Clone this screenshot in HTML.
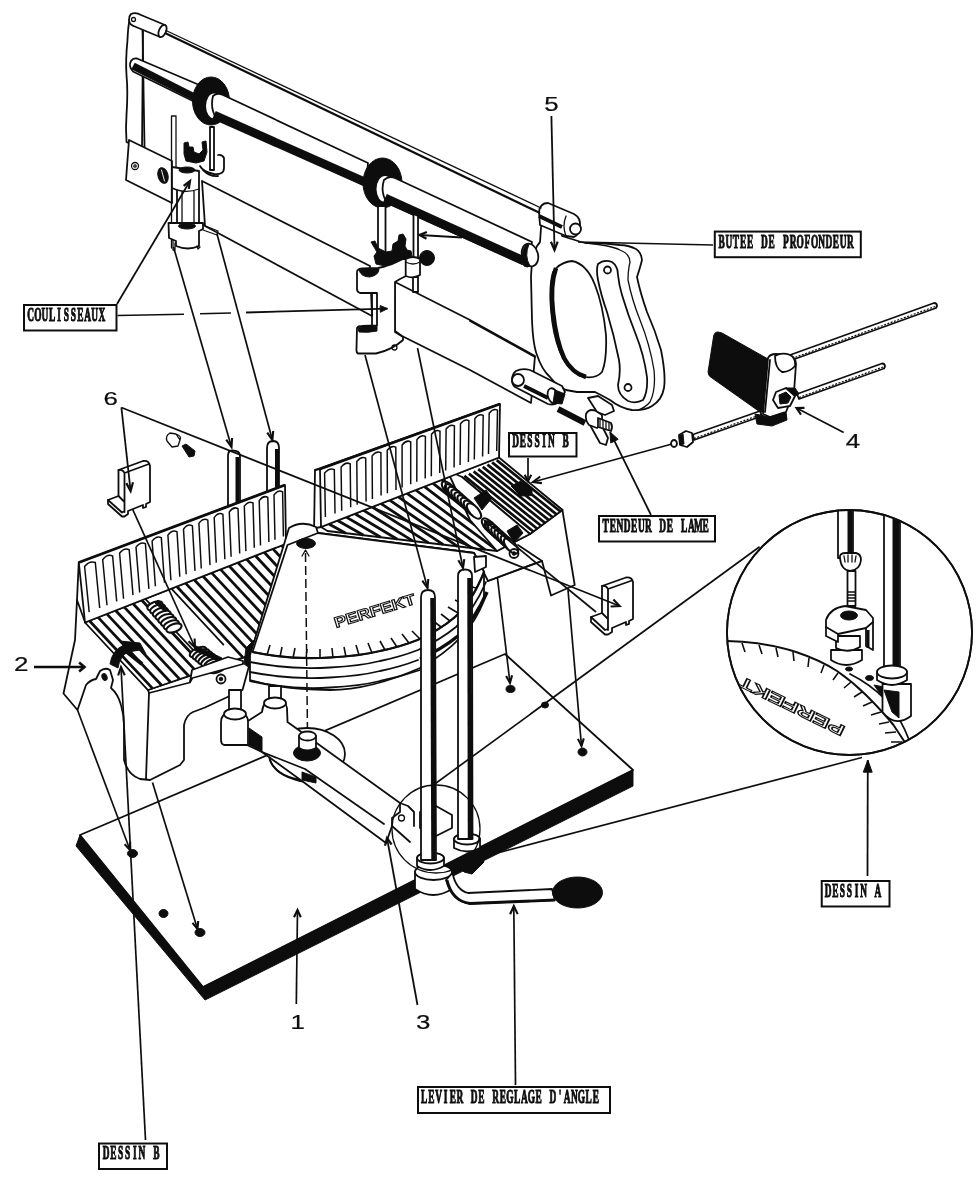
<!DOCTYPE html>
<html lang="fr">
<head>
<meta charset="utf-8">
<title>Boîte à onglets PERFEKT - vue éclatée</title>
<style>
html,body{margin:0;padding:0;background:#fff;}
body{width:980px;height:1181px;overflow:hidden;}
svg{display:block;}
.l{fill:none;stroke:#111;stroke-width:1.8;stroke-linecap:round;stroke-linejoin:round;}
.t{fill:none;stroke:#111;stroke-width:1.3;stroke-linecap:round;stroke-linejoin:round;}
.w{fill:#fff;stroke:#111;stroke-width:1.8;stroke-linejoin:round;stroke-linecap:round;}
.k{fill:#111;stroke:#111;stroke-width:1;stroke-linejoin:round;}
.b{fill:none;stroke:#111;stroke-linecap:butt;}
.lab rect{fill:#fff;stroke:#111;stroke-width:2;}
.lab text{font-family:"Liberation Serif",serif;font-weight:bold;fill:#111;stroke:#111;stroke-width:1.1px;}
.num{font-family:"Liberation Sans",sans-serif;fill:#111;stroke:#111;stroke-width:0.2px;}
</style>
</head>
<body>
<svg width="980" height="1181" viewBox="0 0 980 1181">
<defs><filter id="soft" x="0" y="0" width="980" height="1181" filterUnits="userSpaceOnUse"><feGaussianBlur stdDeviation="0.45"/></filter></defs>
<rect width="980" height="1181" fill="#fff"/>
<g filter="url(#soft)">
<g id="backposts">
<path class="w" d="M228,456 Q228,450.500 232,450.500 Q240,450.500 240,456 L240,520 L228,520 Z"/>
<path class="b" stroke-width="4" d="M237.500,457 L237.500,520"/>
<path class="w" d="M267,448 Q267,441 273,441 Q279,441 279,448 L279,520 L267,520 Z"/>
<path class="b" stroke-width="4" d="M277,449 L277,520"/>
</g>
<g id="base">
<path class="w" stroke-width="2" d="M80,835 L505,654 L633,770 L203,987 Z"/>
<path class="k" d="M80,835 L203,987 L633,770 L633,786 L205,1000 L76,846 Z"/>
<ellipse class="k" cx="132.500" cy="853.500" rx="5" ry="4"/>
<ellipse class="k" cx="163.500" cy="913.500" rx="4.500" ry="4"/>
<ellipse class="k" cx="200" cy="932.500" rx="5" ry="4"/>
<ellipse class="k" cx="510.500" cy="689" rx="4.500" ry="3.500"/>
<ellipse class="k" cx="545" cy="705" rx="3.500" ry="3"/>
<ellipse class="k" cx="582.500" cy="752" rx="4.500" ry="4"/>
</g>
<g id="rbox">
<path class="w" d="M315,470 L314,533 L474,553 L488,581 L542,561 L551,595.500 L574.700,585 L562.400,510 L499,459 L499,404 Z"/>
<path class="l" d="M488,581 L542,561 L518,545"/>
<path class="l" d="M530,534 L562.400,510"/>
<path class="w" d="M321,527 L499,457.5 L562.4,510 L530,534 L497,551 L327.5,531 Z"/>
<path class="b" stroke-width="2.8" d="M328.9,523.9 L345.8,533.2 M337.6,520.5 L363.6,535.3 M346.3,517.1 L380.8,537.3 M354.9,513.8 L397.3,539.2 M363.6,510.4 L413.1,541.1 M372.3,507 L428.5,542.9 M381,503.6 L443.3,544.7 M389.6,500.2 L457.6,546.4 M398.3,496.8 L471.6,548 M407,493.4 L485.1,549.6 M415.7,490 L497.6,550.7 M424.4,486.6 L504.1,547.4 M433,483.3 L510.6,544 M441.7,479.9 L517.1,540.6 M450.4,476.5 L523.7,537.2"/>
<path class="b" stroke-width="2.7" d="M464.3,475.9 L533.3,531.5 M468.9,473.6 L537.2,528.7 M473.6,471.4 L541.1,525.8 M478.2,469.1 L544.9,522.9 M482.8,466.9 L548.8,520.1 M487.4,464.6 L552.7,517.2 M492.1,462.4 L556.5,514.4 M496.7,460.1 L560.4,511.5"/>
<path class="l" d="M462,477 L530,534"/>
<path class="w" d="M447,470 L462,477 L505,513 L530,534 L497,551 L470,520 Z"/>
<g fill="#fff" stroke="#111" stroke-width="2.1"><ellipse cx="449" cy="489" rx="4.5" ry="9.5" transform="rotate(-42 449 489)"/><ellipse cx="452.1" cy="491.8" rx="4.5" ry="9.5" transform="rotate(-42 452.1 491.8)"/><ellipse cx="455.2" cy="494.5" rx="4.5" ry="9.5" transform="rotate(-42 455.2 494.5)"/><ellipse cx="458.4" cy="497.2" rx="4.5" ry="9.5" transform="rotate(-42 458.4 497.2)"/><ellipse cx="461.5" cy="500" rx="4.5" ry="9.5" transform="rotate(-42 461.5 500)"/><ellipse cx="464.6" cy="502.8" rx="4.5" ry="9.5" transform="rotate(-42 464.6 502.8)"/><ellipse cx="467.8" cy="505.5" rx="4.5" ry="9.5" transform="rotate(-42 467.8 505.5)"/><ellipse cx="470.9" cy="508.2" rx="4.5" ry="9.5" transform="rotate(-42 470.9 508.2)"/><ellipse cx="474" cy="511" rx="4.5" ry="9.5" transform="rotate(-42 474 511)"/></g>
<g fill="#fff" stroke="#111" stroke-width="2.1"><ellipse cx="489" cy="526" rx="4.5" ry="9.5" transform="rotate(-42 489 526)"/><ellipse cx="492.1" cy="528.9" rx="4.5" ry="9.5" transform="rotate(-42 492.1 528.9)"/><ellipse cx="495.3" cy="531.7" rx="4.5" ry="9.5" transform="rotate(-42 495.3 531.7)"/><ellipse cx="498.4" cy="534.6" rx="4.5" ry="9.5" transform="rotate(-42 498.4 534.6)"/><ellipse cx="501.6" cy="537.4" rx="4.5" ry="9.5" transform="rotate(-42 501.6 537.4)"/><ellipse cx="504.7" cy="540.3" rx="4.5" ry="9.5" transform="rotate(-42 504.7 540.3)"/><ellipse cx="507.9" cy="543.1" rx="4.5" ry="9.5" transform="rotate(-42 507.9 543.1)"/><ellipse cx="511" cy="546" rx="4.5" ry="9.5" transform="rotate(-42 511 546)"/></g>
<path class="k" d="M474,498 l12,-8 l6,8 l-10,12 Z M507,531 l10,-6 l6,8 l-9,10 Z"/>
<path class="k" d="M511,486 L521,481 L532,489 L532,495.500 L521,496 Z"/>
<circle class="l" cx="514" cy="553.500" r="4.500"/><circle class="k" cx="514" cy="553.500" r="1.800"/>
<path class="w" d="M320,469 L500,404 L499,457.5 L321,527 Z"/>
<path class="b" stroke-width="2.8" d="M320,469 L500,404"/>
<path class="b" stroke-width="1.5" stroke-linecap="round" d="M325.4,517.1 L324.6,473.1 Q329.4,467.3 334.3,469.6 L335,513.4 M341.7,510.8 L341.1,467.2 Q345.6,461.5 350.2,463.8 L350.7,507.3 M357.2,504.8 L356.8,461.5 Q361.2,455.8 365.7,458.2 L366.1,501.4 M372.4,499 L372.1,455.9 Q376.4,450.3 380.9,452.7 L381.1,495.6 M387.4,493.2 L387.2,450.4 Q391.5,444.9 395.8,447.2 L396,489.9 M402.1,487.5 L402.1,445 Q406.4,439.5 410.7,441.8 L410.7,484.2 M416.8,481.8 L416.9,439.6 Q421.1,434.1 425.4,436.5 L425.2,478.6 M431.3,476.2 L431.5,434.2 Q435.7,428.9 440,431.2 L439.7,473 M445.7,470.6 L446.1,429 Q450.3,423.6 454.4,425.9 L454.1,467.4 M460.1,465.1 L460.5,423.7 Q464.7,418.4 468.9,420.6 L468.4,461.9 M474.3,459.6 L474.9,418.5 Q479.1,413.2 483.2,415.4 L482.6,456.4 M488.5,454.1 L489.2,413.2 Q493.4,408 497.5,410.2 L496.7,450.9"/>
<path class="l" d="M320,469 L315,470 M321,527 L316,528"/>
</g>
<g id="lbox">
<path class="w" d="M77,600 L75,640 L63.500,693.500 L77.500,710 L86,685 Q90,680 96,679 L100,671 Q105,667 110,670 L113,680 L111,688 Q118,694 121,705 Q124,715 124,725 L124,760 Q128,775 140,779 L150,780 L180,765 L184,760 L184,725 Q186,715 193,712 L205,707.500 L242.500,690 L252,655 L148,690 L85,622 Z"/>
<path class="l" d="M149,693 L146,779"/>
<ellipse class="k" cx="104.500" cy="677" rx="2.500" ry="3.500" transform="rotate(-20 104.500 677)"/>
<path class="l" d="M148,690 L149,693 L190,682.500 L192.500,675 L242.500,661"/>
<circle class="l" cx="221" cy="679" r="4.500"/><circle class="k" cx="221" cy="679" r="1.800"/>
<path class="w" d="M85,622.5 L286,543.8 L250,655 L148,690 Z"/>
<path class="b" stroke-width="2.8" d="M89.4,620.8 L152.5,688.4 M98.1,617.4 L161.6,685.3 M106.8,613.9 L170.6,682.2 M115.6,610.5 L179.6,679.1 M124.3,607.1 L188.7,676 M133.1,603.7 L197.7,672.9 M141.8,600.2 L206.8,669.8 M176.8,586.5 L242.9,657.4 M185.5,583.1 L250.7,652.9 M194.2,579.7 L253.7,643.4 M203,576.3 L256.8,634 M211.7,572.9 L259.9,624.5 M220.5,569.4 L263,615 M229.2,566 L266,605.5 M237.9,562.6 L269.1,596 M246.7,559.2 L272.2,586.5 M255.4,555.7 L275.2,577 M264.2,552.3 L278.3,567.5 M272.9,548.9 L281.4,558 M281.6,545.5 L284.5,548.5"/>
<path class="l" d="M145.3,598.9 l58,62 M171.4,588.6 l52,56"/>
<g fill="#fff" stroke="#111" stroke-width="2.1"><ellipse cx="155" cy="606" rx="8" ry="4" transform="rotate(-20 155 606)"/><ellipse cx="157.7" cy="609.1" rx="8" ry="4" transform="rotate(-20 157.7 609.1)"/><ellipse cx="160.4" cy="612.3" rx="8" ry="4" transform="rotate(-20 160.4 612.3)"/><ellipse cx="163.1" cy="615.4" rx="8" ry="4" transform="rotate(-20 163.1 615.4)"/><ellipse cx="165.9" cy="618.6" rx="8" ry="4" transform="rotate(-20 165.9 618.6)"/><ellipse cx="168.6" cy="621.7" rx="8" ry="4" transform="rotate(-20 168.6 621.7)"/><ellipse cx="171.3" cy="624.9" rx="8" ry="4" transform="rotate(-20 171.3 624.9)"/><ellipse cx="174" cy="628" rx="8" ry="4" transform="rotate(-20 174 628)"/></g>
<g fill="#fff" stroke="#111" stroke-width="2.1"><ellipse cx="198" cy="652" rx="9" ry="4" transform="rotate(-25 198 652)"/><ellipse cx="200.9" cy="654.3" rx="9" ry="4" transform="rotate(-25 200.9 654.3)"/><ellipse cx="203.7" cy="656.6" rx="9" ry="4" transform="rotate(-25 203.7 656.6)"/><ellipse cx="206.6" cy="658.9" rx="9" ry="4" transform="rotate(-25 206.6 658.9)"/><ellipse cx="209.4" cy="661.1" rx="9" ry="4" transform="rotate(-25 209.4 661.1)"/><ellipse cx="212.3" cy="663.4" rx="9" ry="4" transform="rotate(-25 212.3 663.4)"/><ellipse cx="215.1" cy="665.7" rx="9" ry="4" transform="rotate(-25 215.1 665.7)"/><ellipse cx="218" cy="668" rx="9" ry="4" transform="rotate(-25 218 668)"/></g>
<path class="k" d="M158,600 l10,9 l-3,3 l-10,-9 Z M196,646 l26,12 l-2,4 l-26,-12 Z"/>
<path class="w" d="M190,682 L192,670 L228,657 L243,661 L243,664 L192.500,678 Z"/>
<path class="k" d="M110,664 Q112,650 124,645 L120,641 L140,643 L146,654 L140,650 L128,652 Q120,656 118,668 Z"/>
<path class="b" stroke-width="4" d="M122,648 L142,664"/>
<path class="k" d="M246,648 L254,640 L250,668 L244,664 Z"/>
<path class="w" d="M78.8,562.5 L285,485 L286,543.8 L85,622.5 Z"/>
<path class="b" stroke-width="2.8" d="M78.8,562.5 L285,485"/>
<path class="b" stroke-width="1.5" stroke-linecap="round" d="M89.2,612.1 L84.6,566.5 Q89.5,560.3 95.3,562.5 L99.7,608 M107,605.2 L102.7,559.7 Q107.3,553.6 112.6,556 L116.7,601.4 M123.6,598.7 L119.6,553.3 Q124.1,547.3 129.2,549.7 L133,595.1 M139.7,592.5 L136,547.1 Q140.4,541.2 145.4,543.6 L148.9,588.9 M155.4,586.3 L152.1,541.1 Q156.4,535.2 161.3,537.6 L164.5,582.8 M170.9,580.3 L167.9,535.1 Q172.2,529.2 177,531.7 L179.8,576.8 M186.2,574.3 L183.5,529.2 Q187.7,523.4 192.4,525.8 L195,570.9 M201.3,568.5 L198.9,523.4 Q203.1,517.6 207.8,520.1 L210,565.1 M216.3,562.6 L214.2,517.6 Q218.4,511.8 222.9,514.3 L224.9,559.3 M231.1,556.8 L229.3,511.9 Q233.5,506.2 238,508.6 L239.7,553.5 M245.9,551.1 L244.3,506.3 Q248.5,500.5 253,503 L254.3,547.8 M260.5,545.4 L259.2,500.6 Q263.4,494.9 267.8,497.4 L268.9,542.1 M275,539.7 L274,495 Q278.2,489.3 282.6,491.8 L283.4,536.5"/>
<path class="l" d="M78.750,562.500 L77,600"/>
</g>
<g id="table">
<!-- under ring / base of turntable -->
<path class="w" d="M289,528 Q302,520 316,527 L318,533 L474,553 L484,572 L484,600 Q470,640 420,668 Q370,690 330,690 Q285,690 250,680 L250,655 Z"/>
<!-- plate -->
<path class="w" d="M287.500,545 L252.500,652 Q290,660 330,657.500 Q360,656 380,651 Q400,647 417.500,640 Q440,630 455,617 Q472,602 484,572 L474,553 L318,533 Z"/>
<path class="b" stroke-width="2.200" d="M252.500,652 Q290,660 330,657.500 Q360,656 380,651 Q400,647 417.500,640 Q440,630 455,617 Q472,602 484,572"/>
<path class="l" d="M250,662 Q290,670 330,667.500 Q360,666 380,661 Q400,657 418,650 Q440,640 456,627 Q474,610 486,582"/>
<path class="b" stroke-width="3.500" d="M420,659 Q442,649 458,636 Q476,618 487,592"/>
<path class="l" d="M250,672 Q290,680 330,677.500 Q360,676 380,671 Q400,667 418,660"/>
<path class="l" d="M250,681 Q290,690 330,687.500 Q360,686 380,681 Q400,677 420,670"/>
<!-- ticks -->
<path class="b" stroke-width="1.600" d="M267,655 l3,-10 M280,657 l2,-10 M293,658 l2,-10 M306,659 l1,-10 M320,659 l0,-10 M333,658 l-1,-10 M346,657 l-2,-10 M359,655 l-3,-10 M372,653 l-4,-10 M385,650 l-5,-9 M397,647 l-6,-9 M409,643 l-7,-9 M420,639 l-8,-8 M431,633 l-8,-8 M441,627 l-9,-7 M450,621 l-9,-7 M458,613 l-10,-6 M465,605 l-10,-5 M471,597 l-11,-4 M476,588 l-11,-3"/>
<!-- pivot -->
<ellipse class="k" cx="306" cy="543.500" rx="9.500" ry="5"/>
<path class="b" stroke-width="1.500" stroke-dasharray="9 4" d="M305.500,553 L307.500,735"/>
<path class="t" d="M302,556 L305.500,550 L309,556"/>
<!-- PERFEKT -->
<text transform="translate(336,628) rotate(-17)" font-family="Liberation Sans, sans-serif" font-weight="bold" font-size="15" fill="#fff" stroke="#111" stroke-width="1.100" textLength="84" lengthAdjust="spacingAndGlyphs">PERFEKT</text>
</g>
<g id="arm">
<!-- back legs (small posts under table) -->
<path class="w" d="M229,690 L229,716 L241,716 L241,690 Z"/>
<path class="w" d="M269,686 L269,704 L281,704 L281,686 Z"/>
<!-- washer disc -->
<ellipse class="w" cx="307" cy="754" rx="38" ry="26"/>
<path class="l" d="M270,760 Q275,775 300,781 Q312,783 318,780"/>
<!-- arm -->
<path class="w" d="M221,722 Q221,714 229,713 L243,714 Q248,716 248,721 L262,712 Q263,700 275,698 Q286,699 287,708 L287.500,722 L400,803 L400,812 L392,818 L392,826 L386,843 L302,781 L262,752 L247,745 L224,745 Q221,744 221,740 Z"/>
<path class="l" d="M248,722 L248,745 M305,769 L384,824 M262,752 L305,769"/>
<ellipse class="w" cx="235" cy="714" rx="11" ry="5.500"/>
<ellipse class="w" cx="275" cy="703" rx="11" ry="5.500"/>
<path class="k" d="M249,728 L262,737 L262,752 L249,745 Z"/>
<path class="k" d="M302,772 L316,777 L316,783 L302,780 Z"/>
<!-- bolt -->
<ellipse class="k" cx="307" cy="753" rx="13.500" ry="8"/>
<path class="w" d="M299,736 L299,748 Q307,753 316,748 L316,736 Z"/>
<ellipse class="w" cx="307.500" cy="736" rx="8.500" ry="4.500"/>
<!-- arm end / boss -->
<circle class="t" cx="401.500" cy="818" r="3"/>
<path class="l" d="M400,803 L408,806 L414,812 L414,826 M392,826 L410,842"/>
<path class="w" d="M420,812 L436,806 L452,815 L452,828 L436,836 L420,828 Z"/>
<!-- boss cylinder under post 1 -->
<path class="w" d="M415,872 L415,889 Q433,901 452,889 L452,872 Z"/>
<ellipse class="w" cx="433.500" cy="872" rx="18.500" ry="8"/>
<!-- nuts -->
<path class="w" d="M417,858 L417,866 Q430,874 444,866 L444,858 Z"/>
<ellipse class="w" cx="430.500" cy="858" rx="13.500" ry="5.500"/>
<path class="w" d="M454,839 L454,848 Q467,855 480,848 L480,839 Z"/>
<ellipse class="w" cx="467" cy="839" rx="13" ry="5.500"/>
<path class="k" d="M458,866 L480,852 L484,862 L472,874 L464,872 Z"/>
<!-- lever -->
<path class="w" d="M452.500,873 Q456,890 468,893 L552,889 L555,900 L470,903.500 Q452,902 446,880 Z"/>
<path class="b" stroke-width="2.800" d="M447,880 Q452,901 470,903.500 L555,900"/>
<ellipse class="k" cx="577.500" cy="892.500" rx="25" ry="15.500"/>
<!-- post 1 -->
<path class="w" d="M421,597 Q421,590 428,590 Q435,590 435,597 L436,860 L421,860 Z"/>
<path class="b" stroke-width="4.500" d="M432.500,598 L433.500,860"/>
<!-- post 2 -->
<path class="w" d="M458,576 Q458,569.500 465,569.500 Q472,569.500 472,576 L472.500,839 L458,839 Z"/>
<path class="b" stroke-width="4.500" d="M469.500,578 L470,839"/>
<path class="w" d="M474,557 L486,556 L486,567 L475,572 Z"/>
<!-- small circle A -->
<circle class="t" cx="436" cy="829" r="44"/>
<!-- back posts behind left fence -->
</g>
<g id="handle">
<!-- handle outer -->
<path class="w" d="M543,207 L541,228 L540,242 Q532,250 531,277 L532,320 Q533,345 537,355 Q542,370 550,377 Q557,386 566,390 L577,392 L595,392 Q603,396 610,400 Q620,408 632,410 Q644,411 652,406 Q662,400 664,388 Q666,375 661,350 Q655,330 647,312 Q640,292 637,277 Q640,268 642,260 Q641,252 636,249 Q628,245 620,245 L600,243 Q585,244 578,241 Q568,238 562,236 L562,214 Z"/>
<!-- second contour -->
<path class="t" d="M585,243 Q610,245 620,250 Q630,254 630,262 Q628,270 628,280 Q632,300 640,320 Q650,345 654,370 Q656,390 650,402 Q645,408 638,410"/>
<!-- oval hole -->
<path class="w" d="M572,261 Q560,262 553,272 Q549,285 551,310 Q553,335 560,352 Q568,370 580,376 Q595,380 602,372 Q607,360 606,335 Q603,305 595,285 Q587,264 572,261 Z"/>
<path class="b" stroke-width="4.500" d="M556,268 Q550,285 553,312 Q556,340 564,358 Q572,373 586,377"/>
<!-- inner grip -->
<path class="l" d="M598,264 Q604,259 612,262 Q618,266 618,275 Q619,285 622,295 Q628,315 636,335 Q644,355 647,377 Q648,392 643,400 Q636,404 628,401 Q618,395 618,385 Q621,372 619,360 Q614,335 607,312 Q601,295 598,280 Q596,270 598,264 Z"/>
<circle class="l" cx="607.500" cy="270" r="3.500"/>
<circle class="l" cx="628" cy="387.500" r="3.500"/>
<!-- top bracket -->
<path class="w" d="M539,212 Q540,203 548,203 L574,214 Q581,218 580,226 Q580,234 574,237 L566,236 L540,225 Z"/>
<path class="b" stroke-width="4" d="M539,216 L562,227"/>
<circle class="w" cx="575.500" cy="229" r="5.500"/>
<path class="t" d="M566,216 Q562,226 566,236"/>
</g>
<g id="saw">
<!-- frame left upright -->
<path class="w" d="M131,16 C128,22 128,30 127.500,40 C126,55 125.500,62 126.500,75 C128,90 127.500,100 126.500,115 C125.500,128 126,135 126.500,142 L142,150 L143,30 L133,15 Z"/>
<path class="l" d="M142.500,28 L144.500,147"/>
<!-- top fitting -->
<path class="w" d="M131,14 Q136,12 141,15 L165,25 L160,37 L136,27 Q129,25 129,20 Q129,16 131,14 Z"/>
<ellipse class="w" cx="162.500" cy="31" rx="3.500" ry="6.500" transform="rotate(24 162.500 31)"/>
<circle class="t" cx="133.500" cy="19.500" r="2"/>
<!-- thin rod -->
<path class="t" d="M166,30.500 L541,208"/>
<path class="b" stroke-width="2.200" d="M165,33 L540,213"/>
<!-- tube left thin part -->
<path class="w" d="M137,58.500 L204,87 L199,104 L133,71.500 Q128,66 131,61 Q133,58 137,58.500 Z"/>
<path class="b" stroke-width="7.500" stroke-linecap="round" d="M133,66 L198,99"/>
<!-- ring1 -->
<ellipse class="k" cx="211" cy="101" rx="18.500" ry="24"/>
<ellipse cx="214" cy="106" rx="8" ry="12.500" fill="#fff"/>
<!-- tube middle -->
<path class="w" d="M213,96 Q217,92 223,95 L368,163 L366,186 L216,118 Q210,108 213,96 Z"/>
<path class="b" stroke-width="8.500" d="M214,115 L366,182.500"/>
<!-- ring2 -->
<ellipse class="k" cx="382.500" cy="183" rx="19.500" ry="25"/>
<ellipse cx="385" cy="189" rx="8.500" ry="13" fill="#fff"/>
<!-- tube right -->
<path class="w" d="M384,180 Q389,175 396,178.500 L532,242 L527,266 L387,203 Q380,192 384,180 Z"/>
<path class="b" stroke-width="9" d="M385,198 L524,261"/>
<ellipse class="w" cx="530" cy="255" rx="8" ry="11.500" transform="rotate(-15 530 255)"/>
<path class="k" d="M527,244 Q519,252 524,266 Q528,268 530,266 Q524,256 529,244 Z"/>
<!-- blade left plate -->
<path class="w" d="M129,140 L172,161 L172,203 L126,180 Z"/>
<circle class="t" cx="135" cy="166" r="3.500"/>
<circle class="t" cx="135" cy="166" r="1.200"/>
<!-- blade between sliders -->
<path class="w" d="M202,181 L370,266 L372,316 L205,226 Z"/>
<!-- blade right part -->
<path class="w" d="M395,282 L470,320 L535,356 L531,403 L470,370 L402,336 L395,331 Z"/>
<path class="l" d="M470,321 L535,357"/>
</g>
<g id="holder">
<!-- bottom blade holder -->
<path class="w" d="M516,371 Q512,374 512,380 Q512,386 517,388 L548,404 Q556,406 560,400 L565,392 L562,386 L530,370 Q522,368 516,371 Z"/>
<circle class="w" cx="518" cy="380" r="6"/>
<path class="b" stroke-width="4" d="M524,386 L548,398"/>
<ellipse class="w" cx="553" cy="396" rx="5" ry="8" transform="rotate(-20 553 396)"/>
<path class="k" d="M555,390 L565,394 L562,404 L553,403 Z"/>
<path class="b" stroke-width="6" d="M558,409 L585,423"/>
<!-- wing nut -->
<path class="w" d="M588,398 L598,396 L612,405 L614,411 L605,415 L597,412 Z"/>
<path class="w" d="M590,425 L600,443 L606,445 L608,438 L601,424 Z"/>
<path class="w" d="M586,414 Q589,408 596,411 L602,415 Q603,424 597,428 L589,425 Q585,420 586,414 Z"/>
<path class="w" d="M598,418 L611,423 Q613,427 611,431 L598,427 Z"/>
<path class="t" d="M600,419 L600,427 M603,420 L603,428 M606,421 L606,429 M609,422 L609,430"/>
</g>
<g id="sliders">
<!-- slider 1 -->
<path class="t" d="M171.500,116 L171.500,248 M176,116 L176,168 M171.500,116 L176,116"/>
<path class="w" d="M210,127 L210,170 L214,170 L214,127 Z"/>
<path class="l" d="M200,166 Q203,172 214,174 Q224,175 224,168 L224,158 Q222,154 218,155"/>
<path class="l" d="M203,170 Q210,177 218,176"/>
<path class="k" d="M184,143 L188,142 L189,147 L193,147 L194,152 L199,154 L203,150 L202,142 L206,141 L207,152 L204,161 L196,163 L186,161 L184,154 Z"/>
<ellipse class="k" cx="163" cy="175.500" rx="5" ry="8" transform="rotate(-15 163 175.500)"/>
<path class="t" d="M161.500,170 L164.500,181" style="stroke:#fff;stroke-width:0.9"/>
<path class="w" d="M172,167 L199,171 L199,223 L177,223 L177,190 L172,188 Z"/>
<ellipse class="k" cx="187" cy="170" rx="8" ry="3"/>
<path class="t" d="M177,190 Q188,193 199,189 M182,192 L182,222 M194,191 L194,222"/>
<path class="w" d="M168.500,223 L203,223 L203,229 L199,231 L199,246 Q188,251 176,246 L176,241 L169,238 Z"/>
<ellipse class="k" cx="187" cy="226" rx="8.500" ry="3"/>
<path class="t" d="M173,240 L173,250 L175,250 L175,243 M197,246 L198,249 L200,247"/>
<path class="t" d="M203,225 L218,231 L217,235 L203,230"/>
<!-- slider 2 posts -->
<path class="w" d="M378,206 L378,258 L385.500,258 L385.500,206 Z"/>
<path class="w" d="M413.500,214 L413.500,258 L418,258 L418,216 Z"/>
<path class="w" d="M413,277 L413,292 L418,292 L418,277 Z"/>
<!-- knob -->
<circle class="k" cx="427" cy="258" r="7.500"/>
<!-- clip -->
<path class="k" d="M371,242 L375,241 L378,248 L386,252 L392,251 L393,244 L398,241 L399,235 L403,234 L406,239 L405,246 L407,250 L411,251 L412,256 L404,259 L396,263 L385,266 L376,264 L374,256 L377,252 Z"/>
<!-- body -->
<path class="w" d="M357,272 Q357,269 362,268.500 L378,268 Q390,266 403,259 L406,259 L406,276 L400,279 L395,282 L395,332 L403,337 L403,340 Q392,350 376,353.500 L358,353.500 Q356,352 356.500,349 L357,328 Q358,326 362,326 L377,325.500 L377,293 L360,293 Q357,292 357,289 Z"/>
<path class="k" d="M359,270 Q368,267 379,269 Q379,275 370,277 Q361,277 359,270 Z"/>
<path class="k" d="M358,328 Q367,324.500 377,326.500 L377,331 Q368,333 359,332 Z"/>
<path class="l" d="M372,293 L372,326"/>
<path class="w" d="M405.700,259 Q413,255 420,259 L420,275 Q413,279 405.700,276 Z"/>
<path class="t" d="M405.700,262 Q413,266 420,262"/>
<circle class="t" cx="394.500" cy="347.500" r="2.500"/>
</g>
<g id="stop">
<!-- rods -->
<path class="w" d="M790,355 L934,303 Q937,303 937,306 L936,308 L792,360 Z"/>
<path class="b" stroke-width="1.200" stroke-dasharray="2 1.500" d="M792,358.500 L935,306.500"/>
<path class="w" d="M797,394 L882,363.500 Q885,363.500 885,366.500 L884,368.500 L799,399 Z"/>
<path class="b" stroke-width="1.200" stroke-dasharray="2 1.500" d="M799,397.500 L883,367"/>
<path class="w" d="M693,434.500 L760,411 L762,416 L694,440 Z"/>
<path class="b" stroke-width="1.200" stroke-dasharray="2 1.500" d="M694,438.500 L761,414.500"/>
<!-- nut -->
<path class="w" d="M679,435 L686,431 L692,433 L693,442 L687,447 L680,445 Z"/>
<path class="k" d="M679,436 L683,434 L684,444 L680,445 Z"/>
<ellipse class="w" cx="674" cy="443.500" rx="3" ry="3.500"/>
<!-- black plate -->
<path class="k" d="M718,332 Q714,332 713.500,337 L708,372 Q708,376 712,378 L760,412 L764,412 L768,359 L722,333 Z"/>
<!-- block -->
<path class="w" d="M768,358 Q770,354 776,354 L790,355 Q796,358 796,364 L794,392 L786,412 L770,417 L763,414 Z"/>
<path class="w" d="M775,356 Q782,352 790,355 Q796,358 795,366 Q790,372 782,372 Q775,368 775,356 Z"/>
<path class="l" d="M770,360 L765,412"/>
<path class="k" d="M755,414 L770,417 L786,412 L787,420 L772,426 L757,424 Z"/>
<path class="w" d="M776,392 L786,388 L795,396 L790,406 L778,408 L773,400 Z"/>
<path class="k" d="M779,395 L786,392 L791,397 L788,403 L780,404 Z"/>
<path class="k" d="M786,388 L795,388 L799,394 L795,396 Z"/>
</g>
<g id="brackets">
<!-- left bracket -->
<path class="w" d="M118.500,470 L143,461 Q149,460 150,466 L150,502 L146,504 L146,507 L143,508 L143,505 L128,511 L128,514 L124.500,516.500 L122,516.500 L108,504 L108,500 L118.500,496 Z"/>
<path class="l" d="M118.500,470 Q123,469 124.500,473 L124.500,512 M124.500,473 L149,464 M118.500,496 L124.500,502 M108,500 L122,512.500 L124.500,511"/>
<!-- right bracket -->
<path class="w" d="M602,586 L626,577.500 Q632,577 633,582 L633,619 L629,621 L629,624 L626,625 L626,622 L612,628 L612,632 L608,634.500 L605,634.500 L591,622 L591,617 L602,613 Z"/>
<path class="l" d="M602,586 Q606.500,585 608,589 L608,630 M608,589 L632,580.500 M602,613 L608,619 M591,617 L605,630 L608,629"/>
<!-- small screw -->
<path class="t" d="M167,441 Q165,436 170,433 L176,434 L180,440 L178,446 L172,447 Z M176,434 Q182,436 180,440"/>
<path class="k" d="M182,446 L186,444 L195,451 L194,456 L189,457 Z"/>
</g>
<g id="detail">
<clipPath id="cpA"><circle cx="849.500" cy="632.500" r="122"/></clipPath>
<circle class="w" cx="849.500" cy="632.500" r="122.500" stroke-width="2"/>
<g clip-path="url(#cpA)">
<!-- protractor arc -->
<path class="b" stroke-width="2" d="M727,641 Q765,642 796,652 Q820,660 837,671 Q853,682 866.500,695.500 Q882,711 893.500,725 L908,747"/>
<path class="l" d="M850,674 Q870,684 886,700 Q900,716 910,742"/>
<path class="k" d="M874,685 L899,690 L899,716 L890,708 Z"/>
<!-- ticks -->
<path class="b" stroke-width="1.600" d="M742,643 l3,9 M759,645 l3,9 M776,648 l2,9 M793,652 l1,9 M809,658 l-1,9 M824,665 l-3,8 M838,673 l-5,7 M851,682 l-7,6 M862,692 l-8,5 M872,702 l-9,4 M881,712 l-10,3 M889,722 l-10,2 M896,732 l-11,1 M902,742 l-11,0"/>
<!-- PERFEKT reversed -->
<text transform="translate(846,727) rotate(206)" font-family="Liberation Sans, sans-serif" font-weight="bold" font-size="15" fill="#fff" stroke="#111" stroke-width="1.100" textLength="116" lengthAdjust="spacingAndGlyphs">PERFEKT</text>
<!-- post 1 thin -->
<path class="w" d="M838,505 L838,558 L853,558 L853,505 Z"/>
<path class="b" stroke-width="5" d="M850,505 L850,556"/>
<path class="w" d="M840,558 Q839,553 846,553 L856,553 Q861,554 861,560 Q860,570 850,571 Q841,570 840,558 Z"/>
<path class="t" d="M844,556 l1,6 M848,555 l0,7 M852,555 l0,7 M856,556 l-1,6"/>
<path class="w" d="M847.500,571 L847.500,606 L855.500,606 L855.500,571 Z"/>
<path class="t" d="M848,592 h7 M848,595 h7 M848,598 h7 M848,601 h7"/>
<!-- post 2 -->
<path class="w" d="M884,505 L884,672 L900,672 L900,505 Z"/>
<path class="b" stroke-width="7" d="M896,505 L896,670"/>
<!-- collar + block -->
<path class="w" d="M882.500,684 L882.500,712 Q895,728 911,716 L911,684 Z"/>
<path class="w" d="M877,672 L877,680 Q892,690 907,680 L907,672 Z"/>
<ellipse class="w" cx="892" cy="672" rx="15" ry="6.500"/>
<path class="k" d="M884,690 L899,692 L899,718 L892,712 Z"/>
<!-- clamp -->
<path class="w" d="M831,650 L831,660 Q846,670 862,660 L862,650 Z"/>
<path class="w" d="M836,636 L836,648 Q848,654 860,647 L860,636 Z"/>
<path class="w" d="M826,620 Q830,608 845,606 L866,610 L873,618 L873,650 L866,646 L866,628 L838,634 L838,642 L826,636 Z"/>
<path class="l" d="M838,634 L826,627 M866,628 L873,622"/>
<path class="b" stroke-width="3" d="M868,630 L868,648"/>
<ellipse class="k" cx="849" cy="615.500" rx="8.500" ry="4.500"/>
<ellipse class="k" cx="849" cy="669" rx="3.500" ry="2"/>
<ellipse class="k" cx="869.500" cy="678" rx="4" ry="2.500"/>
</g>
<circle class="l" cx="849.500" cy="632.500" r="122.500" stroke-width="2"/>
</g>
<g id="leaders">
<path class="b" stroke-width="1.8" d="M551.4,116.0 L554.5,250.0"/><path class="b" stroke-width="2.2" stroke-linecap="round" d="M550.9,241.7 L554.5,250.0 L557.7,241.6"/>
<path class="b" stroke-width="1.6" d="M713.0,245.0 L578.0,242.0"/>
<path class="b" stroke-width="1.8" d="M462.0,237.5 L419.5,235.0"/><path class="b" stroke-width="2.2" stroke-linecap="round" d="M426.9,232.1 L419.5,235.0 L426.5,238.8"/>
<path class="b" stroke-width="1.8" d="M117.0,304.0 L190.0,181.0"/><path class="b" stroke-width="2.2" stroke-linecap="round" d="M188.8,188.9 L190.0,181.0 L183.6,185.8"/>
<path class="b" stroke-width="1.6" d="M117.5,315.5 L184.0,314.2"/>
<path class="b" stroke-width="1.6" d="M200.0,313.8 L231.0,313.0"/>
<path class="b" stroke-width="1.8" d="M246.0,312.5 L387.5,308.7"/><path class="k" d="M387.5,308.7 L380.3,312.3 L380.2,305.5 Z"/>
<path class="b" stroke-width="1.7" d="M173.5,247.0 L231.5,447.0"/><path class="b" stroke-width="2.1" stroke-linecap="round" d="M226.2,439.7 L231.5,447.0 L232.1,438.0"/>
<path class="b" stroke-width="1.7" d="M217.0,234.0 L272.4,440.0"/><path class="b" stroke-width="2.1" stroke-linecap="round" d="M267.2,432.6 L272.4,440.0 L273.2,431.0"/>
<path class="b" stroke-width="1.7" d="M365.0,355.0 L427.5,588.0"/><path class="b" stroke-width="2.1" stroke-linecap="round" d="M422.3,580.6 L427.5,588.0 L428.3,579.0"/>
<path class="b" stroke-width="1.7" d="M417.5,348.0 L463.0,568.0"/><path class="b" stroke-width="2.1" stroke-linecap="round" d="M458.3,560.3 L463.0,568.0 L464.3,559.1"/>
<path class="b" stroke-width="1.8" d="M121.4,407.5 L130.6,491.0"/><path class="b" stroke-width="2.2" stroke-linecap="round" d="M126.3,483.1 L130.6,491.0 L133.0,482.3"/>
<path class="b" stroke-width="1.8" d="M121.4,407.5 L619.6,606.0"/><path class="b" stroke-width="2.2" stroke-linecap="round" d="M610.6,606.5 L619.6,606.0 L613.4,599.4"/>
<path class="b" stroke-width="1.7" d="M132.5,509.0 L195.0,647.5"/><path class="b" stroke-width="2.1" stroke-linecap="round" d="M188.5,641.3 L195.0,647.5 L194.6,638.5"/>
<path class="b" stroke-width="1.7" d="M596.0,612.0 L485.0,521.0"/><path class="b" stroke-width="2.1" stroke-linecap="round" d="M492.8,523.0 L485.0,521.0 L488.5,528.2"/>
<path class="b" stroke-width="2.4" d="M34.0,667.0 L84.5,667.0"/><path class="b" stroke-width="2.6" stroke-linecap="round" d="M79.1,671.5 L84.5,667.0 L79.1,662.5"/>
<path class="b" stroke-width="1.7" d="M77.5,710.0 L130.0,850.0"/><path class="b" stroke-width="2.1" stroke-linecap="round" d="M124.6,844.1 L130.0,850.0 L130.2,842.0"/>
<path class="b" stroke-width="1.7" d="M152.5,782.5 L197.5,929.0"/><path class="b" stroke-width="2.1" stroke-linecap="round" d="M192.5,922.8 L197.5,929.0 L198.2,921.0"/>
<path class="b" stroke-width="1.7" d="M145.5,1140.0 L121.0,667.0"/><path class="b" stroke-width="2.1" stroke-linecap="round" d="M124.8,675.2 L121.0,667.0 L118.1,675.5"/>
<path class="b" stroke-width="1.7" d="M296.3,1004.0 L297.5,910.0"/><path class="b" stroke-width="2.1" stroke-linecap="round" d="M300.8,917.3 L297.5,910.0 L294.0,917.2"/>
<path class="b" stroke-width="1.8" d="M417.5,1005.0 L387.0,838.0"/><path class="b" stroke-width="2.2" stroke-linecap="round" d="M391.6,844.5 L387.0,838.0 L385.0,845.7"/>
<path class="b" stroke-width="1.7" d="M515.5,1085.0 L513.8,906.0"/><path class="b" stroke-width="2.1" stroke-linecap="round" d="M517.7,914.1 L513.8,906.0 L510.1,914.2"/>
<path class="b" stroke-width="1.8" d="M867.5,876.0 L867.8,760.0"/><path class="k" d="M867.8,760.0 L872.2,772.2 L863.3,772.2 Z"/>
<path class="b" stroke-width="1.7" d="M432.0,786.0 L759.6,546.8"/>
<path class="b" stroke-width="1.7" d="M478.0,858.0 L862.0,757.5"/>
<path class="b" stroke-width="1.7" d="M528.0,458.0 L528.0,481.0"/><path class="b" stroke-width="2.1" stroke-linecap="round" d="M524.7,474.8 L528.0,481.0 L531.3,474.8"/>
<path class="b" stroke-width="1.7" d="M672.0,444.0 L533.0,482.0"/><path class="b" stroke-width="2.1" stroke-linecap="round" d="M540.2,476.5 L533.0,482.0 L541.9,483.1"/>
<path class="b" stroke-width="1.7" d="M651.0,515.0 L610.0,432.0"/><path class="k" d="M610.0,432.0 L618.2,439.3 L610.8,443.0 Z"/>
<path class="b" stroke-width="1.7" d="M843.7,432.5 L796.5,408.0"/><path class="b" stroke-width="2.1" stroke-linecap="round" d="M804.5,407.9 L796.5,408.0 L801.0,414.6"/>
<path class="b" stroke-width="1.7" d="M497.4,577.4 L510.0,683.0"/><path class="b" stroke-width="2.1" stroke-linecap="round" d="M506.1,676.0 L510.0,683.0 L512.1,675.3"/>
<path class="b" stroke-width="1.7" d="M568.0,590.0 L581.5,746.0"/><path class="b" stroke-width="2.1" stroke-linecap="round" d="M577.9,738.9 L581.5,746.0 L583.8,738.4"/>
</g>
<g id="labels">
<g class="lab"><rect x="24" y="305" width="92.5" height="25.5"/><text transform="scale(0.52,1)" text-anchor="middle" font-size="18" y="321.3" x="59.04 72.71 86.38 100.06 113.73 127.4 141.08 154.75 168.42 182.1 195.77">COULISSEAUX</text></g>
<g class="lab"><rect x="714.8" y="231.6" width="146" height="25.6"/><text transform="scale(0.52,1)" text-anchor="middle" font-size="18" y="247.7" x="1387.72 1401.47 1415.22 1428.96 1442.71 1456.46 1470.2 1483.95 1497.7 1511.44 1525.19 1538.94 1552.68 1566.43 1580.17 1593.92 1607.67 1621.41 1635.16">BUTEE DE PROFONDEUR</text></g>
<g class="lab"><rect x="509" y="433" width="67.5" height="23.5"/><text transform="scale(0.52,1)" text-anchor="middle" font-size="18" y="447.5" x="991.74 1005.43 1019.12 1032.82 1046.51 1060.2 1073.9 1087.59">DESSIN B</text></g>
<g class="lab"><rect x="599" y="516" width="116" height="25.5"/><text transform="scale(0.52,1)" text-anchor="middle" font-size="18" y="532" x="1164.82 1178.54 1192.25 1205.96 1219.68 1233.39 1247.1 1260.82 1274.53 1288.24 1301.96 1315.67 1329.38 1343.1 1356.81">TENDEUR DE LAME</text></g>
<g class="lab"><rect x="821.75" y="881" width="67.75" height="25.5"/><text transform="scale(0.52,1)" text-anchor="middle" font-size="18" y="896.8" x="1592.67 1606.3 1619.94 1633.57 1647.2 1660.83 1674.46 1688.1">DESSIN A</text></g>
<g class="lab"><rect x="418" y="1087" width="192" height="26"/><text transform="scale(0.52,1)" text-anchor="middle" font-size="18" y="1103" x="815.8 829.55 843.3 857.04 870.79 884.54 898.29 912.03 925.78 939.53 953.27 967.02 980.77 994.52 1008.26 1022.01 1035.76 1049.51 1063.25 1077 1090.75 1104.49 1118.24 1131.99 1145.74">LEVIER DE REGLAGE D&#39;ANGLE</text></g>
<g class="lab"><rect x="99" y="1143.5" width="68" height="25.5"/><text transform="scale(0.52,1)" text-anchor="middle" font-size="18" y="1159.5" x="204.27 218.02 231.77 245.53 259.28 273.03 286.79 300.54">DESSIN B</text></g>
<text class="num" x="544.3" y="110.6" font-size="21" textLength="14.4" lengthAdjust="spacingAndGlyphs">5</text>
<text class="num" x="103.5" y="405" font-size="18.5" textLength="14.4" lengthAdjust="spacingAndGlyphs">6</text>
<text class="num" x="845.7" y="447.5" font-size="20" textLength="14.4" lengthAdjust="spacingAndGlyphs">4</text>
<text class="num" x="14" y="671.4" font-size="20" textLength="14.4" lengthAdjust="spacingAndGlyphs">2</text>
<text class="num" x="290.5" y="1028.8" font-size="20.5" textLength="14.4" lengthAdjust="spacingAndGlyphs">1</text>
<text class="num" x="416" y="1028.8" font-size="20.5" textLength="14.4" lengthAdjust="spacingAndGlyphs">3</text>
</g>
</g>
</svg>
</body>
</html>
